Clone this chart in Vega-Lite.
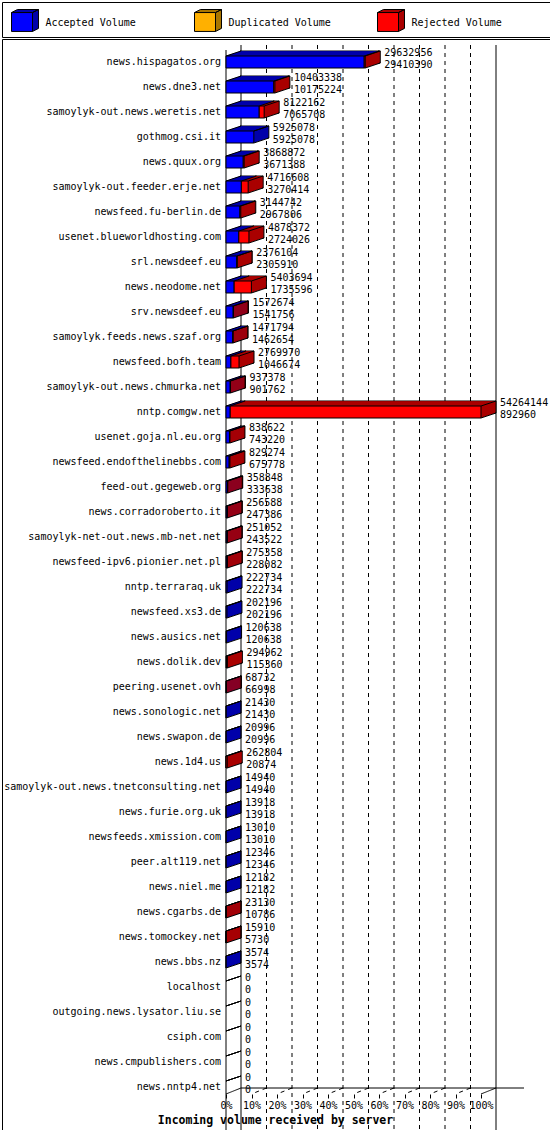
{
  "$schema": "https://vega.github.io/schema/vega-lite/v6.json",
  "padding": {"left": 1, "top": 1, "right": 1, "bottom": 1},
  "spacing": 0,
  "config": {
    "view": {"stroke": "black", "strokeWidth": 1},
    "font": "DejaVu Sans Mono",
    "bar": {"opacity": 1},
    "text": {"font": "DejaVu Sans Mono", "fontSize": 10, "color": "black"}
  },
  "datasets": {
    "legend": [
      {"item": "Accepted Volume"},
      {"item": "Duplicated Volume"},
      {"item": "Rejected Volume"}
    ],
    "grid": [
      {"pct": 0}, {"pct": 10}, {"pct": 20}, {"pct": 30}, {"pct": 40}, {"pct": 50},
      {"pct": 60}, {"pct": 70}, {"pct": 80}, {"pct": 90}, {"pct": 100}
    ],
    "servers": [
      {"name": "news.hispagatos.org", "total": 29632956, "accepted": 29410390},
      {"name": "news.dne3.net", "total": 10403338, "accepted": 10175224},
      {"name": "samoylyk-out.news.weretis.net", "total": 8122162, "accepted": 7065708},
      {"name": "gothmog.csi.it", "total": 5925078, "accepted": 5925078},
      {"name": "news.quux.org", "total": 3868872, "accepted": 3671388},
      {"name": "samoylyk-out.feeder.erje.net", "total": 4716608, "accepted": 3270414},
      {"name": "newsfeed.fu-berlin.de", "total": 3144742, "accepted": 2967806},
      {"name": "usenet.blueworldhosting.com", "total": 4878372, "accepted": 2724026},
      {"name": "srl.newsdeef.eu", "total": 2376104, "accepted": 2305910},
      {"name": "news.neodome.net", "total": 5403694, "accepted": 1735596},
      {"name": "srv.newsdeef.eu", "total": 1572674, "accepted": 1541756},
      {"name": "samoylyk.feeds.news.szaf.org", "total": 1471794, "accepted": 1462654},
      {"name": "newsfeed.bofh.team", "total": 2769970, "accepted": 1046674},
      {"name": "samoylyk-out.news.chmurka.net", "total": 937378, "accepted": 901762},
      {"name": "nntp.comgw.net", "total": 54264144, "accepted": 892960},
      {"name": "usenet.goja.nl.eu.org", "total": 838622, "accepted": 743220},
      {"name": "newsfeed.endofthelinebbs.com", "total": 829274, "accepted": 675778},
      {"name": "feed-out.gegeweb.org", "total": 358848, "accepted": 333638},
      {"name": "news.corradoroberto.it", "total": 256588, "accepted": 247386},
      {"name": "samoylyk-net-out.news.mb-net.net", "total": 251052, "accepted": 243522},
      {"name": "newsfeed-ipv6.pionier.net.pl", "total": 275358, "accepted": 228082},
      {"name": "nntp.terraraq.uk", "total": 222734, "accepted": 222734},
      {"name": "newsfeed.xs3.de", "total": 202196, "accepted": 202196},
      {"name": "news.ausics.net", "total": 120638, "accepted": 120638},
      {"name": "news.dolik.dev", "total": 294962, "accepted": 115360},
      {"name": "peering.usenet.ovh", "total": 68732, "accepted": 66998},
      {"name": "news.sonologic.net", "total": 21430, "accepted": 21430},
      {"name": "news.swapon.de", "total": 20996, "accepted": 20996},
      {"name": "news.1d4.us", "total": 262804, "accepted": 20874},
      {"name": "samoylyk-out.news.tnetconsulting.net", "total": 14940, "accepted": 14940},
      {"name": "news.furie.org.uk", "total": 13918, "accepted": 13918},
      {"name": "newsfeeds.xmission.com", "total": 13010, "accepted": 13010},
      {"name": "peer.alt119.net", "total": 12346, "accepted": 12346},
      {"name": "news.niel.me", "total": 12182, "accepted": 12182},
      {"name": "news.cgarbs.de", "total": 23130, "accepted": 10786},
      {"name": "news.tomockey.net", "total": 15910, "accepted": 5730},
      {"name": "news.bbs.nz", "total": 3574, "accepted": 3574},
      {"name": "localhost", "total": 0, "accepted": 0},
      {"name": "outgoing.news.lysator.liu.se", "total": 0, "accepted": 0},
      {"name": "csiph.com", "total": 0, "accepted": 0},
      {"name": "news.cmpublishers.com", "total": 0, "accepted": 0},
      {"name": "news.nntp4.net", "total": 0, "accepted": 0}
    ]
  },
  "vconcat": [
    {
      "width": 548,
      "height": 35,
      "data": {"name": "legend"},
      "encoding": {
        "x": {"field": "item", "type": "nominal", "sort": null, "scale": {"type": "point", "range": [20, 386], "padding": 0}, "axis": null}
      },
      "layer": [
        {
          "mark": {"type": "point", "shape": "M-1,-0.9L-0.43,-1.19L1.57,-1.19L1,-0.9ZM1,-0.9L1.57,-1.19L1.57,0.61L1,0.9Z", "size": 441, "filled": true, "opacity": 1, "stroke": "black", "strokeWidth": 1, "yOffset": 2.5},
          "encoding": {
            "fill": {"condition": [{"test": "datum.item == 'Accepted Volume'", "value": "#0000aa"}, {"test": "datum.item == 'Duplicated Volume'", "value": "#aa7600"}], "value": "#aa0000"}
          }
        },
        {
          "mark": {"type": "point", "shape": "M-1,-0.9L1,-0.9L1,0.9L-1,0.9Z", "size": 441, "filled": true, "opacity": 1, "stroke": "black", "strokeWidth": 1, "yOffset": 2.5},
          "encoding": {
            "fill": {"condition": [{"test": "datum.item == 'Accepted Volume'", "value": "#0000ff"}, {"test": "datum.item == 'Duplicated Volume'", "value": "#ffb000"}], "value": "#ff0000"}
          }
        },
        {
          "mark": {"type": "text", "align": "left", "baseline": "middle", "dx": 23.5, "dy": 3},
          "encoding": {"text": {"field": "item"}}
        }
      ]
    },
    {
      "width": 548,
      "height": 1092,
      "resolve": {"scale": {"x": "independent"}},
      "layer": [
        {
          "data": {"name": "grid"},
          "encoding": {
            "x": {
              "field": "pct", "type": "quantitative",
              "scale": {"domain": [0, 100], "range": [224, 479], "nice": false, "zero": false},
              "axis": {
                "orient": "bottom", "offset": -37,
                "values": [0, 10, 20, 30, 40, 50, 60, 70, 80, 90, 100],
                "labelExpr": "datum.value + '%'",
                "domain": false, "grid": false,
                "ticks": true, "tickSize": 4, "tickColor": "black", "tickWidth": 1,
                "labelFont": "DejaVu Sans Mono", "labelFontSize": 10, "labelColor": "black",
                "labelPadding": 2, "labelFlush": false, "labelOverlap": false,
                "title": "Incoming volume received by server",
                "titleFont": "DejaVu Sans Mono", "titleFontSize": 11.5, "titleFontWeight": "bold",
                "titleColor": "black", "titleX": 273, "titleY": 26,
                "titleAlign": "center", "titleBaseline": "middle"
              }
            }
          },
          "layer": [
            {
              "transform": [{"filter": "datum.pct > 0 && datum.pct < 100"}],
              "mark": {"type": "rule", "color": "black", "strokeDash": [4, 4], "xOffset": 15, "yOffset": 6, "y2Offset": -43}
            },
            {
              "transform": [{"filter": "datum.pct == 0 || datum.pct == 100"}],
              "mark": {"type": "rule", "color": "black", "xOffset": 15, "yOffset": 6, "y2Offset": -43}
            },
            {
              "transform": [{"filter": "datum.pct == 0"}],
              "mark": {"type": "rule", "color": "black", "yOffset": 11, "y2Offset": -37}
            },
            {
              "mark": {"type": "rule", "color": "black", "x2Offset": 15, "strokeDashOffset": 4},
              "encoding": {
                "x2": {"field": "pct"},
                "y": {"value": 1055},
                "y2": {"value": 1049},
                "strokeDash": {"condition": {"test": "datum.pct > 0 && datum.pct < 100", "value": [4, 4]}, "value": [1, 0]}
              }
            },
            {
              "transform": [{"filter": "datum.pct == 0"}],
              "mark": {"type": "rule", "color": "black", "xOffset": 15, "x2Offset": 43},
              "encoding": {"x2": {"datum": 100}, "y": {"value": 1049}}
            }
          ]
        },
        {
          "data": {"name": "servers"},
          "encoding": {
            "y": {"field": "name", "type": "nominal", "sort": null, "scale": {"range": [10.5, 1060.5], "paddingInner": 0, "paddingOuter": 0}, "axis": null}
          },
          "layer": [
            {
              "transform": [{"filter": "datum.accepted > 0"}],
              "encoding": {
                "x": {"field": "accepted", "type": "quantitative", "scale": {"domain": [0, 54264144], "range": [224, 479], "nice": false, "zero": false}, "axis": null},
                "x2": {"datum": 0},
                "color": {"value": "#0000aa"}
              },
              "layer": [
                {"mark": {"type": "bar", "height": 12, "xOffset": 15, "x2Offset": 14, "yOffset": -5, "stroke": "black", "strokeWidth": 1}},
                {"mark": {"type": "bar", "height": 12, "xOffset": 14, "x2Offset": 13, "yOffset": -4.67}},
                {"mark": {"type": "bar", "height": 12, "xOffset": 13, "x2Offset": 12, "yOffset": -4.33}},
                {"mark": {"type": "bar", "height": 12, "xOffset": 12, "x2Offset": 11, "yOffset": -4}},
                {"mark": {"type": "bar", "height": 12, "xOffset": 11, "x2Offset": 10, "yOffset": -3.67}},
                {"mark": {"type": "bar", "height": 12, "xOffset": 10, "x2Offset": 9, "yOffset": -3.33}},
                {"mark": {"type": "bar", "height": 12, "xOffset": 9, "x2Offset": 8, "yOffset": -3}},
                {"mark": {"type": "bar", "height": 12, "xOffset": 8, "x2Offset": 7, "yOffset": -2.67}},
                {"mark": {"type": "bar", "height": 12, "xOffset": 7, "x2Offset": 6, "yOffset": -2.33}},
                {"mark": {"type": "bar", "height": 12, "xOffset": 6, "x2Offset": 5, "yOffset": -2}},
                {"mark": {"type": "bar", "height": 12, "xOffset": 5, "x2Offset": 4, "yOffset": -1.67}},
                {"mark": {"type": "bar", "height": 12, "xOffset": 4, "x2Offset": 3, "yOffset": -1.33}},
                {"mark": {"type": "bar", "height": 12, "xOffset": 3, "x2Offset": 2, "yOffset": -1}},
                {"mark": {"type": "bar", "height": 12, "xOffset": 2, "x2Offset": 1, "yOffset": -0.67}},
                {"mark": {"type": "bar", "height": 12, "xOffset": 1, "x2Offset": 0, "yOffset": -0.33}}
              ]
            },
            {
              "transform": [{"filter": "datum.total > datum.accepted"}],
              "encoding": {
                "x": {"field": "total", "type": "quantitative", "axis": null},
                "x2": {"field": "accepted"},
                "color": {"value": "#aa0000"}
              },
              "layer": [
                {"mark": {"type": "bar", "height": 12, "xOffset": 15, "x2Offset": 14, "yOffset": -5, "stroke": "black", "strokeWidth": 1}},
                {"mark": {"type": "bar", "height": 12, "xOffset": 14, "x2Offset": 13, "yOffset": -4.67}},
                {"mark": {"type": "bar", "height": 12, "xOffset": 13, "x2Offset": 12, "yOffset": -4.33}},
                {"mark": {"type": "bar", "height": 12, "xOffset": 12, "x2Offset": 11, "yOffset": -4}},
                {"mark": {"type": "bar", "height": 12, "xOffset": 11, "x2Offset": 10, "yOffset": -3.67}},
                {"mark": {"type": "bar", "height": 12, "xOffset": 10, "x2Offset": 9, "yOffset": -3.33}},
                {"mark": {"type": "bar", "height": 12, "xOffset": 9, "x2Offset": 8, "yOffset": -3}},
                {"mark": {"type": "bar", "height": 12, "xOffset": 8, "x2Offset": 7, "yOffset": -2.67}},
                {"mark": {"type": "bar", "height": 12, "xOffset": 7, "x2Offset": 6, "yOffset": -2.33}},
                {"mark": {"type": "bar", "height": 12, "xOffset": 6, "x2Offset": 5, "yOffset": -2}},
                {"mark": {"type": "bar", "height": 12, "xOffset": 5, "x2Offset": 4, "yOffset": -1.67}},
                {"mark": {"type": "bar", "height": 12, "xOffset": 4, "x2Offset": 3, "yOffset": -1.33}},
                {"mark": {"type": "bar", "height": 12, "xOffset": 3, "x2Offset": 2, "yOffset": -1}},
                {"mark": {"type": "bar", "height": 12, "xOffset": 2, "x2Offset": 1, "yOffset": -0.67}},
                {"mark": {"type": "bar", "height": 12, "xOffset": 1, "x2Offset": 0, "yOffset": -0.33}}
              ]
            },
            {
              "transform": [{"filter": "datum.accepted > 0"}],
              "mark": {"type": "bar", "height": 12, "stroke": "black", "strokeWidth": 1},
              "encoding": {
                "x": {"field": "accepted", "type": "quantitative", "axis": null},
                "x2": {"datum": 0},
                "color": {"value": "#0000ff"}
              }
            },
            {
              "transform": [{"filter": "datum.total > datum.accepted"}],
              "mark": {"type": "bar", "height": 12, "stroke": "black", "strokeWidth": 1},
              "encoding": {
                "x": {"field": "total", "type": "quantitative", "axis": null},
                "x2": {"field": "accepted"},
                "color": {"value": "#ff0000"}
              }
            },
            {
              "transform": [{"fold": ["total", "accepted"], "as": ["key", "value"]}],
              "mark": {"type": "rule", "color": "black", "x2Offset": 15, "yOffset": -6, "y2Offset": -11},
              "encoding": {
                "x": {"field": "value", "type": "quantitative", "axis": null},
                "x2": {"field": "value"},
                "y2": {"field": "name"}
              }
            },
            {
              "mark": {"type": "rule", "color": "black", "x2Offset": 15, "yOffset": -6, "y2Offset": -11},
              "encoding": {
                "x": {"datum": 0, "type": "quantitative", "axis": null},
                "x2": {"datum": 0},
                "y2": {"field": "name"}
              }
            },
            {
              "transform": [{"filter": "datum.total > 0"}],
              "mark": {"type": "rule", "color": "black", "x2Offset": 15, "yOffset": 6, "y2Offset": 1},
              "encoding": {
                "x": {"field": "total", "type": "quantitative", "axis": null},
                "x2": {"field": "total"},
                "y2": {"field": "name"}
              }
            },
            {
              "mark": {"type": "text", "align": "right", "baseline": "middle", "dx": -5},
              "encoding": {
                "x": {"datum": 0, "type": "quantitative", "axis": null},
                "text": {"field": "name"}
              }
            },
            {
              "mark": {"type": "text", "align": "left", "baseline": "middle", "dx": 19, "dy": -9},
              "encoding": {
                "x": {"field": "total", "type": "quantitative", "axis": null},
                "text": {"field": "total", "type": "quantitative", "format": "d"}
              }
            },
            {
              "mark": {"type": "text", "align": "left", "baseline": "middle", "dx": 19, "dy": 2.5},
              "encoding": {
                "x": {"field": "total", "type": "quantitative", "axis": null},
                "text": {"field": "accepted", "type": "quantitative", "format": "d"}
              }
            }
          ]
        }
      ]
    }
  ]
}
